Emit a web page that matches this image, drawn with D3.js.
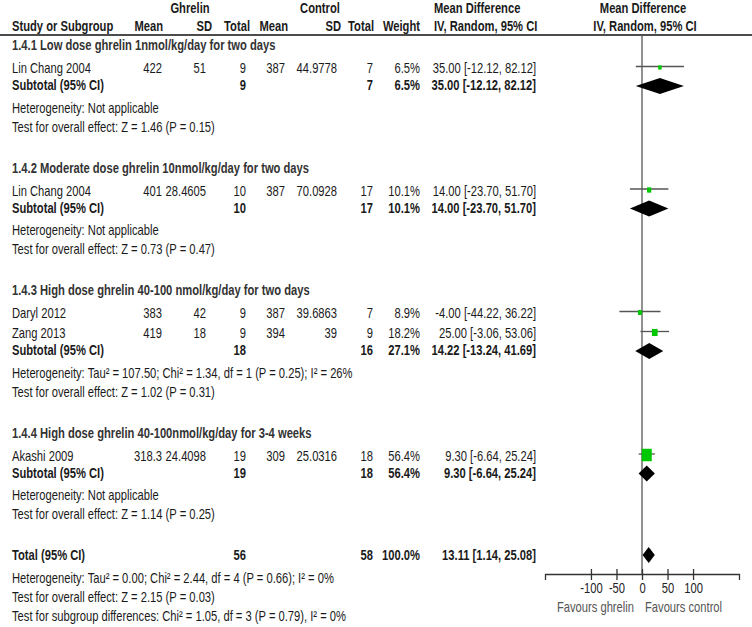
<!DOCTYPE html>
<html><head><meta charset="utf-8">
<script src="https://cdn.jsdelivr.net/npm/d3@7/dist/d3.min.js"></script>
<style>body{margin:0;background:#fff}svg{display:block}</style>
</head><body>
<script>
// ---------- data ----------
const subgroupLabels = [
  "1.4.1 Low dose ghrelin 1nmol/kg/day for two days",
  "1.4.2 Moderate dose ghrelin 10nmol/kg/day for two days",
  "1.4.3 High dose ghrelin 40-100 nmol/kg/day for two days",
  "1.4.4 High dose ghrelin 40-100nmol/kg/day for 3-4 weeks"
];
const studyNames   = ["Lin Chang 2004", "Lin Chang 2004", "Daryl 2012", "Zang 2013", "Akashi 2009"];
const studyGroup   = [0, 1, 2, 2, 3];
const ghrelinMean  = ["422", "401", "383", "419", "318.3"];
const ghrelinSD    = ["51", "28.4605", "42", "18", "24.4098"];
const ghrelinN     = [9, 10, 9, 9, 19];
const controlMean  = ["387", "387", "387", "394", "309"];
const controlSD    = ["44.9778", "70.0928", "39.6863", "39", "25.0316"];
const controlN     = [7, 17, 7, 9, 18];
const studyWeight  = [6.5, 10.1, 8.9, 18.2, 56.4];
const studyMD      = [35.00, 14.00, -4.00, 25.00, 9.30];
const studyLo      = [-12.12, -23.70, -44.22, -3.06, -6.64];
const studyHi      = [82.12, 51.70, 36.22, 53.06, 25.24];

const subGhrelinN  = [9, 10, 18, 19];
const subControlN  = [7, 17, 16, 18];
const subWeight    = [6.5, 10.1, 27.1, 56.4];
const subMD        = [35.00, 14.00, 14.22, 9.30];
const subLo        = [-12.12, -23.70, -13.24, -6.64];
const subHi        = [82.12, 51.70, 41.69, 25.24];
const subHet = [
  "Heterogeneity: Not applicable",
  "Heterogeneity: Not applicable",
  "Heterogeneity: Tau\u00b2 = 107.50; Chi\u00b2 = 1.34, df = 1 (P = 0.25); I\u00b2 = 26%",
  "Heterogeneity: Not applicable"
];
const subTest = [
  "Test for overall effect: Z = 1.46 (P = 0.15)",
  "Test for overall effect: Z = 0.73 (P = 0.47)",
  "Test for overall effect: Z = 1.02 (P = 0.31)",
  "Test for overall effect: Z = 1.14 (P = 0.25)"
];
const totalN       = [56, 58];
const totalWeight  = 100.0;
const totalEffect  = [13.11, 1.14, 25.08]; // MD, lower, upper
const totalNotes = [
  "Heterogeneity: Tau\u00b2 = 0.00; Chi\u00b2 = 2.44, df = 4 (P = 0.66); I\u00b2 = 0%",
  "Test for overall effect: Z = 2.15 (P = 0.03)",
  "Test for subgroup differences: Chi\u00b2 = 1.05, df = 3 (P = 0.79), I\u00b2 = 0%"
];
const axisTicks    = [-100, -50, 0, 50, 100];
const favourLabels = ["Favours ghrelin", "Favours control"];
const headerGroups = ["Ghrelin", "Control", "Mean Difference", "Mean Difference"];
const headerCols   = ["Study or Subgroup", "Mean", "SD", "Total", "Mean", "SD", "Total", "Weight", "IV, Random, 95% CI", "IV, Random, 95% CI"];

// ---------- layout ----------
const W = 752, H = 627;
const SX = 0.8;             // horizontal text compression
const FS = 14;
const textCol = "#1a1a1a";
const svg = d3.select("body").append("svg").attr("width", W).attr("height", H)
  .style("font-family", "'Liberation Sans', Arial, Helvetica, sans-serif").style("font-size", FS + "px");

const colX = {name: 12, gMean: 162, gSD: 206, gN: 246, cMean: 285, cSD: 337, cN: 373, w: 420, ci: 536};
const fmt2 = v => v.toFixed(2);
const ciText = (m, l, h) => `${fmt2(m)} [${fmt2(l)}, ${fmt2(h)}]`;
const pct = v => v.toFixed(1) + "%";

function txt(x, y, s, anchor = "start", bold = false, fill = textCol) {
  svg.append("text")
    .attr("transform", `translate(${x},${y}) scale(${SX},1)`)
    .attr("text-anchor", anchor).attr("dy", "0.36em")
    .style("font-weight", bold ? "bold" : "normal")
    .attr("fill", fill).text(s);
}

// rows with vertical gaps between types
const rows = [];
subgroupLabels.forEach((lab, g) => {
  rows.push({type: "header", g});
  studyNames.forEach((n, i) => { if (studyGroup[i] === g) rows.push({type: "study", i}); });
  rows.push({type: "sub", g});
  rows.push({type: "het", text: subHet[g]});
  rows.push({type: "test", text: subTest[g]});
});
rows.push({type: "total"});
rows.push({type: "het", text: totalNotes[0]});
rows.push({type: "test", text: totalNotes[1]});
rows.push({type: "test2", text: totalNotes[2]});

const gap = (prev, cur) => {
  if (!prev) return 0;
  if (prev === "header") return 23;
  if (cur === "study") return 20;
  if (cur === "sub") return 17;
  if (cur === "het") return 22.5;
  if (cur === "test") return 19;
  if (cur === "test2") return 19;
  return 41; // after test -> new header / total
};
let y = 45;
rows.forEach((r, idx) => { y += gap(idx ? rows[idx - 1].type : null, r.type); r.y = y; });

// x scale for forest plot
const x = d3.scaleLinear().domain([-190, 190]).range([545, 739]);
const axisY = 574;
const headLineY = 35;

// header
txt(190, 8, headerGroups[0], "middle", true);
txt(320, 8, headerGroups[1], "middle", true);
txt(434, 8, headerGroups[2], "start", true);
txt(x(0) + 1, 8, headerGroups[3], "middle", true);
const hy = 26;
txt(colX.name, hy, headerCols[0], "start", true);
txt(163, hy, headerCols[1], "end", true);
txt(212, hy, headerCols[2], "end", true);
txt(colX.gN + 4, hy, headerCols[3], "end", true);
txt(colX.cMean + 3, hy, headerCols[4], "end", true);
txt(colX.cSD + 4, hy, headerCols[5], "end", true);
txt(colX.cN + 1, hy, headerCols[6], "end", true);
txt(colX.w, hy, headerCols[7], "end", true);
txt(434, hy, headerCols[8], "start", true);
txt(x(0) + 3, hy, headerCols[9], "middle", true);
svg.append("line").attr("x1", 0).attr("x2", W).attr("y1", headLineY).attr("y2", headLineY)
  .attr("stroke", "#111").attr("stroke-width", 1.5);

// zero line
svg.append("line").attr("x1", x(0)).attr("x2", x(0)).attr("y1", headLineY).attr("y2", axisY)
  .attr("stroke", "#555").attr("stroke-width", 1.3);

const diamond = (m, l, h, yy) => {
  const hh = 8;
  svg.append("path")
    .attr("d", `M${x(l)},${yy}L${x(m)},${yy - hh}L${x(h)},${yy}L${x(m)},${yy + hh}Z`)
    .attr("fill", "#000");
};

rows.forEach(r => {
  const yy = r.y;
  if (r.type === "header") txt(colX.name, yy, subgroupLabels[r.g], "start", true, "#333");
  else if (r.type === "study") {
    const i = r.i;
    txt(colX.name, yy, studyNames[i]);
    txt(colX.gMean, yy, ghrelinMean[i], "end");
    txt(colX.gSD, yy, ghrelinSD[i], "end");
    txt(colX.gN, yy, String(ghrelinN[i]), "end");
    txt(colX.cMean, yy, controlMean[i], "end");
    txt(colX.cSD, yy, controlSD[i], "end");
    txt(colX.cN, yy, String(controlN[i]), "end");
    txt(colX.w, yy, pct(studyWeight[i]), "end");
    txt(colX.ci, yy, ciText(studyMD[i], studyLo[i], studyHi[i]), "end");
    const my = yy - 1.5;
    svg.append("line").attr("x1", x(studyLo[i])).attr("x2", x(studyHi[i]))
      .attr("y1", my).attr("y2", my).attr("stroke", "#555").attr("stroke-width", 1.3);
    const s = 1.33 * Math.sqrt(studyWeight[i]);
    svg.append("rect").attr("x", x(studyMD[i]) - s / 2).attr("y", my - s * 1.25 / 2 + 1)
      .attr("width", s).attr("height", s * 1.25).attr("fill", "#00c800");
  } else if (r.type === "sub") {
    const g = r.g;
    txt(colX.name, yy, "Subtotal (95% CI)", "start", true);
    txt(colX.gN, yy, String(subGhrelinN[g]), "end", true);
    txt(colX.cN, yy, String(subControlN[g]), "end", true);
    txt(colX.w, yy, pct(subWeight[g]), "end", true);
    txt(colX.ci, yy, ciText(subMD[g], subLo[g], subHi[g]), "end", true);
    diamond(subMD[g], subLo[g], subHi[g], yy + 1);
  } else if (r.type === "total") {
    txt(colX.name, yy, "Total (95% CI)", "start", true);
    txt(colX.gN, yy, String(totalN[0]), "end", true);
    txt(colX.cN, yy, String(totalN[1]), "end", true);
    txt(colX.w, yy, pct(totalWeight), "end", true);
    txt(colX.ci, yy, ciText(totalEffect[0], totalEffect[1], totalEffect[2]), "end", true);
    diamond(totalEffect[0], totalEffect[1], totalEffect[2], yy);
  } else {
    txt(colX.name, yy, r.text);
  }
});

// axis
const axis = d3.axisBottom(x).tickValues(axisTicks).tickSizeOuter(0).tickSize(6).tickFormat(d3.format("d"));
const ag = svg.append("g").attr("transform", `translate(0,${axisY})`).call(axis);
ag.select(".domain").attr("stroke", "#333").attr("stroke-width", 1.3);
ag.selectAll(".tick line").attr("y1", -5).attr("y2", 6).attr("stroke", "#333").attr("stroke-width", 1.3);
ag.selectAll(".tick text").attr("y", null).attr("dy", "0.36em")
  .attr("transform", `translate(0,14) scale(${SX},1)`)
  .attr("fill", "#222").style("font-size", FS + "px")
  .style("font-family", "'Liberation Sans', Arial, sans-serif")
  .text(d => String(d).replace("\u2212", "-"));
txt(634, 607, favourLabels[0], "end", false, "#555");
txt(645, 607, favourLabels[1], "start", false, "#555");
</script>
</body></html>
